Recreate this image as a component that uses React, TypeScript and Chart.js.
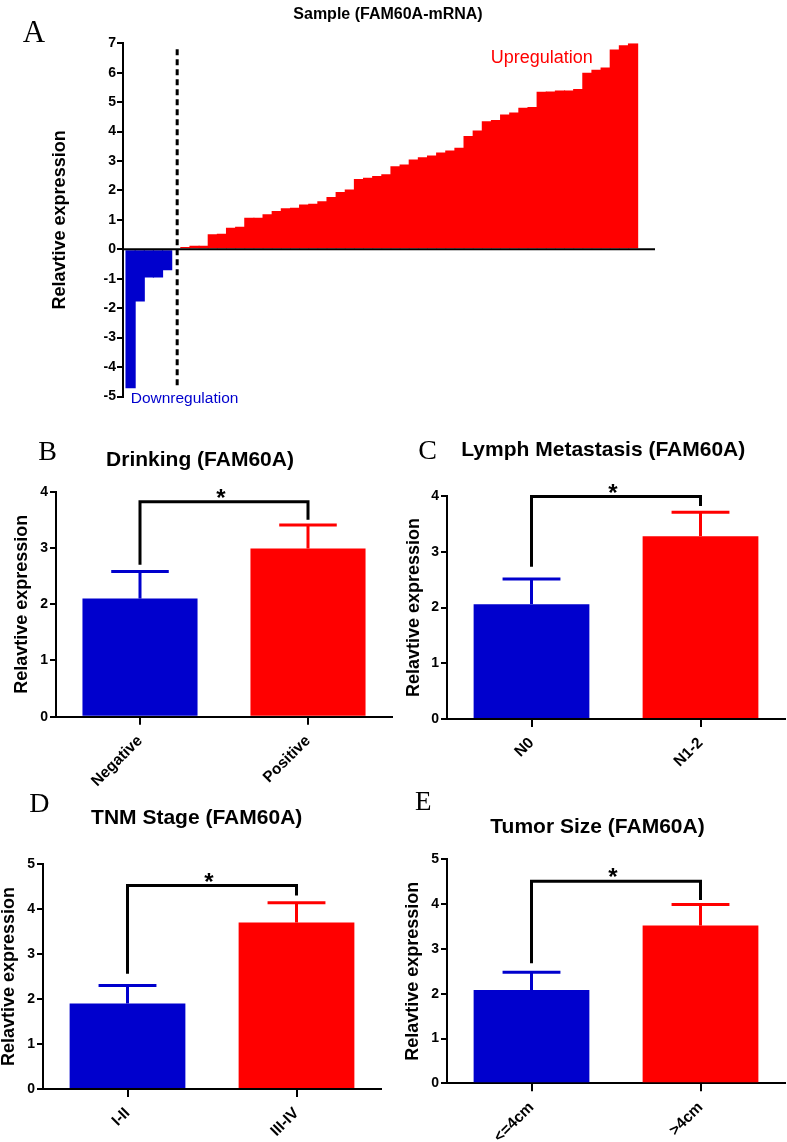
import React, { useEffect, useRef } from 'react';
import { Chart, registerables } from 'chart.js';

Chart.register(...registerables);

const FONT = '"Liberation Sans", Arial, Helvetica, sans-serif';
const SERIF = '"Liberation Serif", "Times New Roman", serif';
const BLUE = '#0000cd';
const RED = '#ff0000';

Chart.defaults.color = '#000';
Chart.defaults.font.family = FONT;

// ---------- Panel A data ----------
const downValues = [-4.72, -1.77, -0.96, -0.96, -0.71];
const upValues = [
  0.08, 0.12, 0.12, 0.51, 0.53, 0.73, 0.77, 1.07, 1.07, 1.19,
  1.3, 1.4, 1.41, 1.52, 1.55, 1.63, 1.78, 1.95, 2.03, 2.39,
  2.43, 2.49, 2.55, 2.82, 2.88, 3.05, 3.13, 3.19, 3.29, 3.36,
  3.45, 3.85, 4.04, 4.35, 4.39, 4.58, 4.65, 4.81, 4.84, 5.35,
  5.36, 5.4, 5.4, 5.45, 6.0, 6.1, 6.18, 6.79, 6.93, 7.0,
];
const dividerRange = [-4.7, 6.8];

// ---------- Panels B-E data ----------
const drinkingCategories = ['Negative', 'Positive'];
const drinkingMeans = [2.1, 2.99];
const drinkingSem = [0.48, 0.42];
const drinkingBracket = [2.7, 3.82, 3.5];

const lymphCategories = ['N0', 'N1-2'];
const lymphMeans = [2.06, 3.28];
const lymphSem = [0.45, 0.43];
const lymphBracket = [2.73, 3.99, 3.82];

const tnmCategories = ['I-II', 'III-IV'];
const tnmMeans = [1.9, 3.7];
const tnmSem = [0.4, 0.44];
const tnmBracket = [2.56, 4.52, 4.3];

const sizeCategories = ['<=4cm', '>4cm'];
const sizeMeans = [2.08, 3.52];
const sizeSem = [0.4, 0.47];
const sizeBracket = [2.68, 4.51, 4.09];

function drawText(ctx: any, text: string, x: number, y: number, font: string, color: string, align: string) {
  ctx.save();
  ctx.font = font;
  ctx.fillStyle = color;
  ctx.textAlign = align;
  ctx.textBaseline = 'alphabetic';
  ctx.fillText(text, x, y);
  ctx.restore();
}

const yTitleFont = { size: 18, weight: 'bold', family: FONT, lineHeight: 1 };

function makeWaterfallConfig(): any {
  const points = [
    ...downValues.map((v, i) => ({ x: i, y: v })),
    ...upValues.map((v, j) => ({ x: downValues.length + 1 + j, y: v })),
  ];
  const colors = [...downValues.map(() => BLUE), ...upValues.map(() => RED)];
  return {
    type: 'bar',
    data: {
      datasets: [
        {
          data: points,
          backgroundColor: colors,
          borderWidth: 0,
          barPercentage: 1.12,
          categoryPercentage: 1,
        },
      ],
    },
    options: {
      animation: false,
      responsive: false,
      maintainAspectRatio: false,
      layout: { padding: { left: 0, top: 43.3, right: 132, bottom: 23.5 } },
      plugins: { legend: { display: false }, tooltip: { enabled: false }, title: { display: false } },
      scales: {
        x: {
          type: 'linear',
          min: -0.83,
          max: 57.4,
          offset: false,
          bounds: 'data',
          display: false,
          grid: { offset: false },
        },
        y: {
          min: -5,
          max: 7,
          ticks: { stepSize: 1, color: '#000', padding: 1, font: { size: 14, weight: 'bold', family: FONT } },
          grid: { drawOnChartArea: false, color: '#000', lineWidth: 2, tickLength: 6 },
          border: { color: '#000', width: 2 },
          title: { display: true, text: 'Relavtive expression', color: '#000', font: yTitleFont, padding: { top: 51.5, bottom: 0 } },
          afterFit: (s: any) => {
            s.width = 123;
          },
        },
      },
    },
    plugins: [
      {
        id: 'waterfallExtras',
        afterDatasetsDraw(chart: any) {
          const { ctx, chartArea, scales } = chart;
          const xs = scales.x;
          const ys = scales.y;
          ctx.save();
          const y0 = ys.getPixelForValue(0);
          ctx.strokeStyle = '#000';
          ctx.lineWidth = 2;
          ctx.beginPath();
          ctx.moveTo(chartArea.left, y0);
          ctx.lineTo(chartArea.right, y0);
          ctx.stroke();
          const xd = xs.getPixelForValue(downValues.length + 0.1);
          ctx.setLineDash([6, 4]);
          ctx.lineWidth = 3;
          ctx.beginPath();
          ctx.moveTo(xd, ys.getPixelForValue(dividerRange[1]));
          ctx.lineTo(xd, ys.getPixelForValue(dividerRange[0]));
          ctx.stroke();
          ctx.setLineDash([]);
          ctx.restore();
          drawText(ctx, 'Upregulation', 490.7, 63.3, `18px ${FONT}`, RED, 'left');
          drawText(ctx, 'Downregulation', 130.7, 403.3, `15.5px ${FONT}`, BLUE, 'left');
          drawText(ctx, 'Sample (FAM60A-mRNA)', 388, 19, `bold 16px ${FONT}`, '#000', 'center');
          drawText(ctx, 'A', 22.7, 41.7, `31px ${SERIF}`, '#000', 'left');
        },
      },
    ],
  };
}

type GroupSpec = {
  letter: string;
  letterSize: number;
  letterX: number;
  letterY: number;
  title: string;
  titleX: number;
  titleY: number;
  categories: string[];
  means: number[];
  sems: number[];
  bracket: number[];
  yMax: number;
  padTop: number;
  padRight: number;
  yWidth: number;
  xHeight: number;
  yTitlePad: number;
};

function makeGroupConfig(spec: GroupSpec): any {
  const colors = [BLUE, RED];
  return {
    type: 'bar',
    data: {
      labels: spec.categories,
      datasets: [
        {
          data: spec.means,
          backgroundColor: colors,
          borderWidth: 0,
          barPercentage: 0.685,
          categoryPercentage: 1,
        },
      ],
    },
    options: {
      animation: false,
      responsive: false,
      maintainAspectRatio: false,
      layout: { padding: { left: 0, top: spec.padTop, right: spec.padRight, bottom: 0 } },
      plugins: { legend: { display: false }, tooltip: { enabled: false }, title: { display: false } },
      scales: {
        x: {
          grid: { drawOnChartArea: false, color: '#000', lineWidth: 2, tickLength: 8, offset: false },
          border: { color: '#000', width: 2 },
          ticks: {
            color: '#000',
            maxRotation: 45,
            minRotation: 45,
            padding: 7,
            font: { size: 15.5, weight: 'bold', family: FONT },
          },
          afterFit: (s: any) => {
            s.height = spec.xHeight;
          },
        },
        y: {
          min: 0,
          max: spec.yMax,
          ticks: { stepSize: 1, color: '#000', padding: 2, font: { size: 14, weight: 'bold', family: FONT } },
          grid: { drawOnChartArea: false, color: '#000', lineWidth: 2, tickLength: 6 },
          border: { color: '#000', width: 2 },
          title: {
            display: true,
            text: 'Relavtive expression',
            color: '#000',
            font: yTitleFont,
            padding: { top: spec.yTitlePad, bottom: 0 },
          },
          afterFit: (s: any) => {
            s.width = spec.yWidth;
          },
        },
      },
    },
    plugins: [
      {
        id: 'groupExtras',
        afterDatasetsDraw(chart: any) {
          const { ctx, scales } = chart;
          const ys = scales.y;
          const meta = chart.getDatasetMeta(0);
          ctx.save();
          ctx.lineCap = 'butt';
          meta.data.forEach((el: any, i: number) => {
            const yMean = ys.getPixelForValue(spec.means[i]);
            const yTop = ys.getPixelForValue(spec.means[i] + spec.sems[i]);
            const half = el.width / 4;
            ctx.strokeStyle = colors[i];
            ctx.lineWidth = 3;
            ctx.beginPath();
            ctx.moveTo(el.x, yMean);
            ctx.lineTo(el.x, yTop);
            ctx.stroke();
            ctx.beginPath();
            ctx.moveTo(el.x - half, yTop);
            ctx.lineTo(el.x + half, yTop);
            ctx.stroke();
          });
          const x0 = meta.data[0].x;
          const x1 = meta.data[1].x;
          const yL = ys.getPixelForValue(spec.bracket[0]);
          const yT = ys.getPixelForValue(spec.bracket[1]);
          const yR = ys.getPixelForValue(spec.bracket[2]);
          ctx.strokeStyle = '#000';
          ctx.lineWidth = 3;
          ctx.lineJoin = 'miter';
          ctx.beginPath();
          ctx.moveTo(x0, yL);
          ctx.lineTo(x0, yT);
          ctx.lineTo(x1, yT);
          ctx.lineTo(x1, yR);
          ctx.stroke();
          ctx.restore();
          drawText(ctx, '*', (x0 + x1) / 2 - 3, yT + 4, `bold 24px ${FONT}`, '#000', 'center');
          drawText(ctx, spec.title, spec.titleX, spec.titleY, `bold 21px ${FONT}`, '#000', 'center');
          drawText(ctx, spec.letter, spec.letterX, spec.letterY, `${spec.letterSize}px ${SERIF}`, '#000', 'left');
        },
      },
    ],
  };
}

const ChartCanvas: React.FC<{ left: number; top: number; width: number; height: number; makeConfig: () => any }> = ({
  left,
  top,
  width,
  height,
  makeConfig,
}) => {
  const ref = useRef<HTMLCanvasElement>(null);
  useEffect(() => {
    if (!ref.current) return;
    const chart = new Chart(ref.current, makeConfig());
    return () => chart.destroy();
  }, []);
  return (
    <canvas
      ref={ref}
      width={width}
      height={height}
      style={{ position: 'absolute', left, top, width, height, display: 'block' }}
    />
  );
};

const specB: GroupSpec = {
  letter: 'B', letterSize: 28, letterX: 38.3, letterY: 40,
  title: 'Drinking (FAM60A)', titleX: 200, titleY: 46,
  categories: drinkingCategories, means: drinkingMeans, sems: drinkingSem, bracket: drinkingBracket,
  yMax: 4, padTop: 71.7, padRight: 1, yWidth: 56, xHeight: 83.3, yTitlePad: 13.5,
};
const specC: GroupSpec = {
  letter: 'C', letterSize: 28, letterX: 25.3, letterY: 39,
  title: 'Lymph Metastasis (FAM60A)', titleX: 210.3, titleY: 36,
  categories: lymphCategories, means: lymphMeans, sems: lymphSem, bracket: lymphBracket,
  yMax: 4, padTop: 76, padRight: 2, yWidth: 54, xHeight: 81, yTitlePad: 12,
};
const specD: GroupSpec = {
  letter: 'D', letterSize: 28, letterX: 29.3, letterY: 31.7,
  title: 'TNM Stage (FAM60A)', titleX: 196.7, titleY: 44.3,
  categories: tnmCategories, means: tnmMeans, sems: tnmSem, bracket: tnmBracket,
  yMax: 5, padTop: 84, padRight: 12, yWidth: 43, xHeight: 53, yTitlePad: 0,
};
const specE: GroupSpec = {
  letter: 'E', letterSize: 27, letterX: 22, letterY: 30,
  title: 'Tumor Size (FAM60A)', titleX: 204.5, titleY: 52.7,
  categories: sizeCategories, means: sizeMeans, sems: sizeSem, bracket: sizeBracket,
  yMax: 5, padTop: 79.3, padRight: 2, yWidth: 54, xHeight: 58.7, yTitlePad: 11.5,
};

export default function App() {
  return (
    <div style={{ position: 'absolute', left: 0, top: 0, width: 787, height: 1142, background: '#fff' }}>
      <ChartCanvas left={0} top={0} width={787} height={420} makeConfig={makeWaterfallConfig} />
      <ChartCanvas left={0} top={420} width={393} height={380} makeConfig={() => makeGroupConfig(specB)} />
      <ChartCanvas left={393} top={420} width={394} height={380} makeConfig={() => makeGroupConfig(specC)} />
      <ChartCanvas left={0} top={780} width={393} height={362} makeConfig={() => makeGroupConfig(specD)} />
      <ChartCanvas left={393} top={780} width={394} height={362} makeConfig={() => makeGroupConfig(specE)} />
    </div>
  );
}
